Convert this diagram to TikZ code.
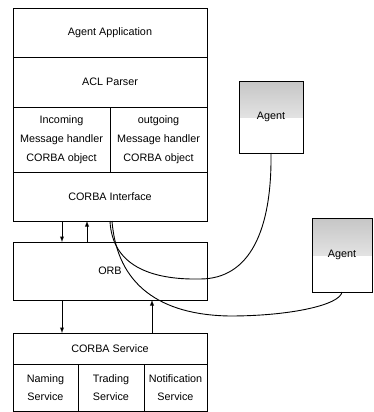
\documentclass[tikz,border=0pt]{standalone}
\usepackage{fontspec}
\setmainfont{Liberation Sans}
\usetikzlibrary{positioning, arrows}

\tikzset{
  layer/.style={draw, line width=0.8pt, outer sep=0pt, inner sep=0pt, minimum width=194pt, font=\fontsize{10.8}{12}\selectfont},
  half/.style={draw, line width=0.8pt, outer sep=0pt, inner sep=0pt, minimum width=97pt, minimum height=65pt, align=center, font=\fontsize{10.8}{19}\selectfont},
  cell/.style={draw, line width=0.8pt, outer sep=0pt, inner sep=0pt, minimum height=47.5pt, align=center, font=\fontsize{10.8}{18}\selectfont},
  agentbox/.style={draw, line width=0.8pt, outer sep=0pt, inner sep=0pt, font=\fontsize{10.8}{12}\selectfont,
    path picture={\shade[top color=gray!45, bottom color=white] (path picture bounding box.north west) rectangle (path picture bounding box.east);}},
  link/.style={line width=0.9pt}
}

\begin{document}
\begin{tikzpicture}[x=1pt, y=-1pt, >=latex]
\useasboundingbox (0,0) rectangle (373,412);

\node[layer, minimum height=49pt] (app) at (110,32.5) {Agent Application};
\node[layer, minimum height=50pt, below=0pt of app] (acl) {ACL Parser};
\node[half, anchor=north west] (inc) at (acl.south west) {Incoming\\Message handler\\CORBA object};
\node[half, anchor=north east] (outg) at (acl.south east) {outgoing\\Message handler\\CORBA object};
\node[layer, minimum height=49pt, anchor=north] (iface) at (inc.south east) {CORBA Interface};

\node[layer, minimum height=58pt, below=21pt of iface] (orb) {ORB};

\node[layer, minimum height=31pt, below=33pt of orb] (svc) {CORBA Service};
\node[cell, minimum width=65pt, anchor=north west] (naming) at (svc.south west) {Naming\\Service};
\node[cell, minimum width=66pt, right=0pt of naming] (trading) {Trading\\Service};
\node[cell, minimum width=63pt, right=0pt of trading] (notif) {Notification\\Service};

\node[agentbox, minimum width=64pt, minimum height=72pt] (agent1) at (271,117) {Agent};
\node[agentbox, minimum width=60pt, minimum height=74pt] (agent2) at (342,255) {Agent};

% interface <-> ORB
\draw[link,->] ([xshift=-48pt]iface.south) -- ([xshift=-48pt]orb.north);
\draw[link,->] ([xshift=-23pt]orb.north) -- ([xshift=-23pt]iface.south);
% ORB <-> services
\draw[link,->] ([xshift=-48pt]orb.south) -- ([xshift=-48pt]svc.north);
\draw[link,->] ([xshift=42pt]svc.north) -- ([xshift=42pt]orb.south);

% links to remote agents
\draw[link] (iface.south) .. controls (112,265) and (150,280) .. (200,279)
  .. controls (250,279) and (272,230) .. (agent1.south);
\draw[link] ([xshift=2pt]iface.south) .. controls (117,285) and (160,315) .. (230,316)
  .. controls (290,316) and (340,305) .. (agent2.south);

\end{tikzpicture}
\end{document}
